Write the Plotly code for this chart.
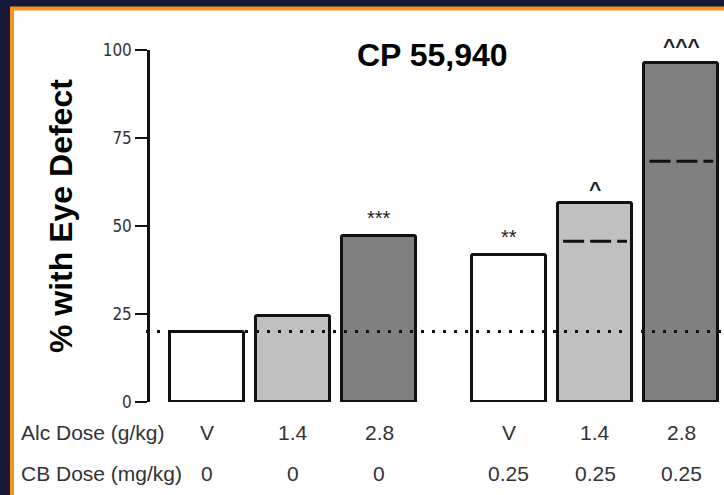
import plotly.graph_objects as go

# ---- data ----
positions = [0, 1, 2, 3.5, 4.5, 5.5]
alc_labels = ["V", "1.4", "2.8", "V", "1.4", "2.8"]
cb_labels = ["0", "0", "0", "0.25", "0.25", "0.25"]
pct_defect = [20, 24.5, 47.3, 41.7, 56.6, 96.3]
bar_colors = ["#ffffff", "#c0c0c0", "#808080", "#ffffff", "#c0c0c0", "#808080"]
significance = ["", "", "***", "**", "^", "^^^"]
expected_additive = [None, None, None, None, 45.7, 68.4]
baseline = 20
y_ticks = [0, 25, 50, 75, 100]

W, H = 724, 495
ML, MR, MT, MB = 150, 0, 50, 93
PW, PH = W - ML - MR, H - MT - MB
NAVY = "#171939"


def px(x):
    return (x - ML) / PW


def py(y):
    return (H - MB - y) / PH


fig = go.Figure()
fig.add_trace(go.Bar(
    x=positions, y=pct_defect, width=0.86,
    marker=dict(color=bar_colors, line=dict(color="#111111", width=3), cornerradius=2),
    showlegend=False, hoverinfo="skip",
))

# expected additive dashed lines
for p, v in zip(positions, expected_additive):
    if v is None:
        continue
    fig.add_trace(go.Scatter(
        x=[p - 0.37, p + 0.37], y=[v, v], mode="lines",
        line=dict(color="#111111", width=3, dash="21px,6px"),
        showlegend=False, hoverinfo="skip",
    ))

shapes = [
    dict(type="rect", xref="paper", yref="paper", x0=px(12), x1=px(760), y0=py(520), y1=py(8.5),
         fillcolor="#ffffff", line=dict(color="#f7931e", width=4), layer="below"),
    dict(type="line", xref="paper", yref="y", x0=px(146), x1=1.0, y0=baseline, y1=baseline,
         line=dict(color="#111111", width=3, dash="3px,8px"), layer="above"),
]

annotations = []
for p, s, v in zip(positions, significance, pct_defect):
    if not s:
        continue
    is_star = "*" in s
    annotations.append(dict(
        x=p, y=v, xref="x", yref="y", text=s if is_star else "<b>" + s + "</b>", showarrow=False,
        yanchor="bottom", yshift=5 if is_star else (4 if len(s) > 1 else 1),
        font=dict(family="Liberation Sans", size=20 if is_star else 21, color="#222222"),
    ))

LBL_FONT = dict(family="Liberation Sans", size=21, color="#333333")
for p, a, c in zip(positions, alc_labels, cb_labels):
    annotations.append(dict(x=p, y=py(432), xref="x", yref="paper", text=a, showarrow=False,
                            yanchor="middle", font=LBL_FONT))
    annotations.append(dict(x=p, y=py(473), xref="x", yref="paper", text=c, showarrow=False,
                            yanchor="middle", font=LBL_FONT))

annotations.append(dict(x=px(19), y=py(432), xref="paper", yref="paper", text="Alc Dose (g/kg)",
                        showarrow=False, xanchor="left", yanchor="middle", font=LBL_FONT))
annotations.append(dict(x=px(19), y=py(473), xref="paper", yref="paper", text="CB Dose (mg/kg)",
                        showarrow=False, xanchor="left", yanchor="middle", font=LBL_FONT))
annotations.append(dict(x=px(432), y=py(55), xref="paper", yref="paper", text="<b>CP 55,940</b>",
                        showarrow=False, xanchor="center", yanchor="middle",
                        font=dict(family="Liberation Sans", size=32, color="#000000")))
annotations.append(dict(x=px(61), y=py(216), xref="paper", yref="paper", text="<b>% with Eye Defect</b>",
                        showarrow=False, textangle=-90, xanchor="center", yanchor="middle",
                        font=dict(family="Liberation Sans", size=32, color="#000000")))

fig.update_layout(
    width=W, height=H,
    margin=dict(l=ML, r=MR, t=MT, b=MB, pad=0),
    paper_bgcolor=NAVY, plot_bgcolor="rgba(0,0,0,0)",
    shapes=shapes, annotations=annotations, bargap=0,
    xaxis=dict(range=[-0.657, 5.994], showgrid=False, zeroline=False, showline=False,
               showticklabels=False, ticks="", fixedrange=True),
    yaxis=dict(range=[0, 100], tickvals=y_ticks, showgrid=False, zeroline=False,
               showline=True, linecolor="#111111", linewidth=2.5,
               ticks="outside", ticklen=12, tickwidth=2, tickcolor="#111111",
               tickfont=dict(family="Liberation Sans Narrow, DejaVu Sans Condensed, Liberation Sans",
                             size=17, color="#333333"),
               fixedrange=True),
)

fig.write_html(
    "out.html",
    config={"displayModeBar": False},
    post_script="document.body.style.margin='0';document.body.style.background='" + NAVY + "';",
)
